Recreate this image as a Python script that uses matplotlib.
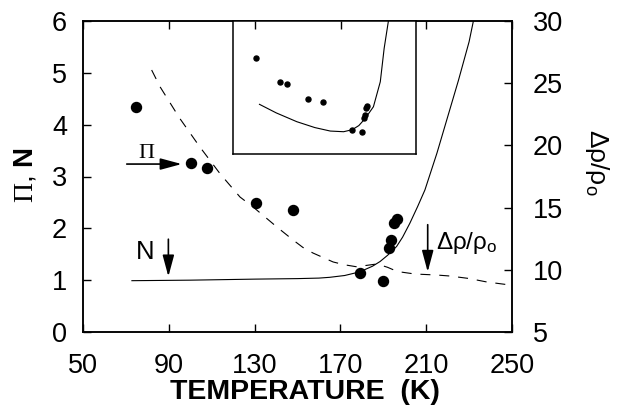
import matplotlib
matplotlib.use("Agg")
import matplotlib.pyplot as plt

plt.rcParams["font.family"] = ["Liberation Sans", "DejaVu Sans"]
plt.rcParams["mathtext.fontset"] = "custom"
plt.rcParams["mathtext.rm"] = "Liberation Serif"
plt.rcParams["mathtext.bf"] = "Liberation Sans:bold"
plt.rcParams["mathtext.default"] = "regular"

# measured Pi (large dots), left axis
pi_T = [74.7, 100.2, 107.9, 130.7, 147.9, 179.0, 189.8, 192.8, 193.6, 194.8, 196.3]
pi_val = [4.34, 3.26, 3.16, 2.49, 2.35, 1.13, 0.99, 1.63, 1.77, 2.11, 2.18]

# N curve (solid), left axis
n_T = [72.8, 100, 130, 150, 160, 165, 172, 179, 185, 188.5, 192, 196.2, 199,
       202.4, 206, 209.4, 215, 220, 225, 230, 232]
n_val = [0.99, 1.0, 1.02, 1.03, 1.04, 1.055, 1.09, 1.16, 1.27, 1.36, 1.48, 1.65,
         1.83, 2.10, 2.42, 2.74, 3.45, 4.15, 4.85, 5.6, 6.0]

# resistivity change (dashed), right axis
rho_T = [82, 86, 95, 104.5, 114, 123.2, 129.3, 140.4, 147.9, 152.5, 157.2, 166.6,
         172, 177.3, 182, 187.1, 192, 196.6, 204.8, 214.9, 221.1, 230, 238.3, 249]
rho_val = [26.06, 24.69, 22.2, 19.87, 17.7, 15.85, 15.05, 13.44, 12.40, 11.8, 11.35,
           10.63, 10.4, 10.25, 10.35, 10.47, 10.2, 9.86, 9.66, 9.58, 9.50, 9.3, 9.02, 8.78]

# inset: dots and curve (temperature vs relative height in inset)
ins_dot_T = [130.8, 141.8, 145.0, 154.8, 162.0, 175.4, 180.1, 181.0, 181.5, 181.9, 182.5]
ins_dot_f = [0.723, 0.541, 0.526, 0.416, 0.391, 0.184, 0.165, 0.274, 0.294, 0.349, 0.362]
ins_T = [132.2, 140, 149.6, 158, 165.2, 171.4, 175.4, 178.5, 181.5, 185.3, 188.5, 190.3, 192.3]
ins_f = [0.374, 0.31, 0.244, 0.20, 0.174, 0.169, 0.184, 0.215, 0.269, 0.356, 0.543, 0.793, 1.0]

x_ticks = [50, 90, 130, 170, 210, 250]

W, H = 618, 408
fig = plt.figure(figsize=(W / 100, H / 100), dpi=100)
ax = fig.add_axes([83 / W, 1 - 332 / H, 429 / W, 311 / H])
ax2 = ax.twinx()

ax.plot(n_T, n_val, color="black", lw=0.8)
ax.plot(pi_T, pi_val, "o", color="black", ms=7.2)
ax2.plot(rho_T, rho_val, color="black", lw=0.8, linestyle=(0, (9, 8)))

ax.set_xlim(50, 250)
ax.set_ylim(0, 6)
ax2.set_ylim(5, 30)
ax.set_xticks(x_ticks)
ax.set_yticks(range(0, 7))
ax2.set_yticks(range(5, 31, 5))

for a in (ax, ax2):
    for s in a.spines.values():
        s.set_linewidth(1.1)
ax.tick_params(axis="x", direction="in", length=6, width=1, top=True,
               labelsize=19.5, pad=15)
ax.tick_params(axis="y", direction="in", length=6, width=1, labelsize=19.5, pad=11.5)
ax2.tick_params(axis="y", direction="in", length=6, width=1, labelsize=19.5, pad=15)

ax.set_xlabel("TEMPERATURE  (K)", fontsize=20.5, fontweight="bold", va="top")
ax.xaxis.set_label_coords(0.5175, -0.152)
ax.set_ylabel(r"$\mathrm{\Pi}$, $\mathbf{N}$", fontsize=20, rotation=90,
              va="center", ha="center")
ax.yaxis.set_label_coords(-0.135, 0.505)
ax2.set_ylabel(r"$\Delta\rho/\rho_o$", fontsize=19, rotation=270,
               va="center", ha="center")
ax2.yaxis.set_label_coords(1.197, 0.547)

arrow = dict(arrowstyle="-|>,head_length=1.3,head_width=0.35", color="black",
             lw=1.2, shrinkA=0, shrinkB=0)
ax.annotate("", xy=(96.0, 3.24), xytext=(70.4, 3.24), arrowprops=arrow)
ax.text(79.7, 3.46, r"$\mathrm{\Pi}$", fontsize=16, ha="center", va="center")
ax.annotate("", xy=(89.8, 1.07), xytext=(89.8, 1.79), arrowprops=arrow)
ax.text(78.8, 1.55, "N", fontsize=18.5, ha="center", va="center")
ax.annotate("", xy=(210.7, 1.16), xytext=(210.7, 2.07), arrowprops=arrow)
ax.text(214.5, 1.72, r"$\Delta\rho/\rho_o$", fontsize=17.5, ha="left", va="center")

# inset
ins = fig.add_axes([233.3 / W, 1 - 154.3 / H, 182.4 / W, 133.6 / H])
ins.plot(ins_T, ins_f, color="black", lw=0.8)
ins.plot(ins_dot_T, ins_dot_f, "o", color="black", ms=3.6)
ins.set_xlim(120, 205)
ins.set_ylim(0, 1)
ins.set_xticks([130, 170])
ins.set_yticks([])
ins.tick_params(axis="x", direction="in", length=6, width=1, top=True,
                bottom=False, labelbottom=False)
for s in ins.spines.values():
    s.set_linewidth(1.1)

fig.savefig("out.png", dpi=100)
